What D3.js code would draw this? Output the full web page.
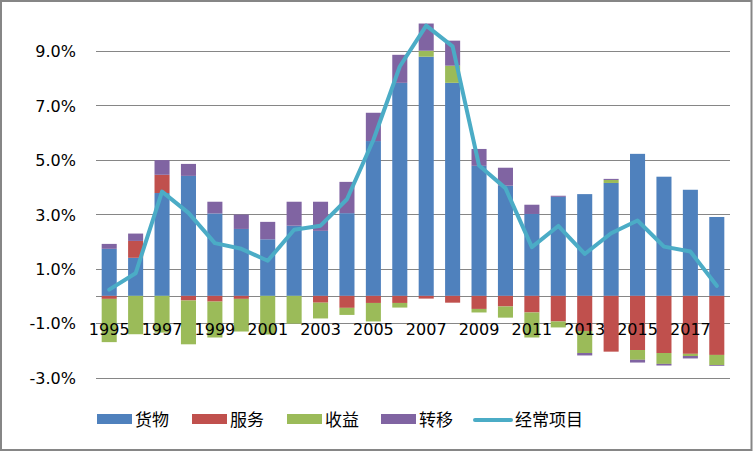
<!DOCTYPE html>
<html>
<head>
<meta charset="utf-8">
<script src="https://cdn.jsdelivr.net/npm/d3@7"></script>
<style>
  html, body { margin: 0; padding: 0; background: #fff; }
  svg { display: block; }
</style>
</head>
<body>
<svg id="chart" width="753" height="451"></svg>
<script>
const years = d3.range(1995, 2019).map(String);
const seriesNames = ["货物", "服务", "收益", "转移"];
const lineName = "经常项目";
const goods =     [1.73,1.40,3.78,4.41,3.03,2.46,2.08,2.58,2.39,3.04,5.69,7.83,8.79,7.83,4.78,4.05,3.01,3.64,3.74,4.15,5.22,4.38,3.90,2.90];
const services =  [-0.11,0.62,0.67,-0.17,-0.21,-0.11,0,0,-0.25,-0.44,-0.26,-0.26,-0.10,-0.25,-0.48,-0.39,-0.61,-0.94,-1.29,-2.05,-1.99,-2.10,-2.13,-2.17];
const income =    [-1.59,-1.41,-1.35,-1.61,-1.32,-1.20,-1.42,-1.02,-0.58,-0.26,-0.68,-0.17,0.22,0.63,-0.13,-0.41,-0.92,-0.22,-0.81,0.11,-0.36,-0.40,-0.08,-0.37];
const transfers = [0.18,0.27,0.54,0.44,0.43,0.53,0.64,0.88,1.07,1.15,1.04,1.03,1.00,0.92,0.62,0.66,0.34,0.04,-0.09,0.04,-0.10,-0.06,-0.09,-0.03];
const currentAccount = [0.23,0.83,3.83,3.05,1.94,1.73,1.29,2.43,2.58,3.55,5.73,8.43,9.93,9.17,4.79,3.96,1.79,2.57,1.54,2.30,2.77,1.81,1.63,0.37];
const yTicks = [-3, -1, 1, 3, 5, 7, 9];
const xTickLabels = years.filter((d, i) => i % 2 === 0);

const colors = ["#4F81BD", "#C0504D", "#9BBB59", "#8064A2"];
const lineColor = "#4BACC6";
const gridColor = "#868686";

const svg = d3.select("#chart");

const x = d3.scaleBand().domain(years).range([96, 730]).paddingInner(0.43).paddingOuter(0.215);
const y = d3.scaleLinear().domain([-3, 9]).range([377.5, 51]);

const table = years.map((yr, i) => ({
  year: yr,
  "货物": goods[i], "服务": services[i], "收益": income[i], "转移": transfers[i]
}));

// outer border
svg.append("rect").attr("x", 1).attr("y", 1).attr("width", 750.5).attr("height", 449)
  .attr("fill", "#fff").attr("stroke", gridColor).attr("stroke-width", 2);

// gridlines
svg.append("g").selectAll("line").data(yTicks.concat([0])).join("line")
  .attr("x1", 96).attr("x2", 730)
  .attr("y1", d => Math.round(y(d)) + 0.5).attr("y2", d => Math.round(y(d)) + 0.5)
  .attr("stroke", gridColor).attr("stroke-width", 1);

// y axis labels
const yAxis = d3.axisLeft(y).tickValues(yTicks).tickSize(0).tickPadding(0)
  .tickFormat(d => d.toFixed(1) + "%");
const gy = svg.append("g").attr("transform", "translate(76,0)").call(yAxis);
gy.select(".domain").remove();
gy.selectAll("text").attr("font-family", "DejaVu Sans").attr("font-size", 16)
  .attr("fill", "#000").attr("dy", "0.36em");

// stacked bars
const stack = d3.stack().keys(seriesNames).offset(d3.stackOffsetDiverging);
const stacked = stack(table);
svg.append("g").selectAll("g").data(stacked).join("g")
  .attr("fill", (d, i) => colors[i])
  .selectAll("rect").data(d => d).join("rect")
  .attr("x", d => x(d.data.year))
  .attr("width", x.bandwidth())
  .attr("y", d => y(Math.max(d[0], d[1])))
  .attr("height", d => Math.abs(y(d[0]) - y(d[1])));

// x axis labels
const xAxis = d3.axisBottom(x).tickValues(xTickLabels).tickSize(0).tickPadding(0);
const gx = svg.append("g").attr("transform", "translate(0,335)").call(xAxis);
gx.select(".domain").remove();
gx.selectAll("text").attr("font-family", "DejaVu Sans").attr("font-size", 16)
  .attr("fill", "#000").attr("dy", 0);

// current account line
const line = d3.line().x((d, i) => x(years[i]) + x.bandwidth() / 2).y(d => y(d));
svg.append("path").datum(currentAccount)
  .attr("d", line).attr("fill", "none").attr("stroke", lineColor)
  .attr("stroke-width", 4).attr("stroke-linejoin", "round").attr("stroke-linecap", "round");

// legend
const legendX = [97, 192, 287, 381];
const lg = svg.append("g");
seriesNames.forEach((name, i) => {
  lg.append("rect").attr("x", legendX[i]).attr("y", 414).attr("width", 35).attr("height", 10).attr("fill", colors[i]);
  lg.append("text").attr("x", legendX[i] + 38).attr("y", 420).attr("dy", "0.35em")
    .attr("font-family", "Noto Sans CJK SC").attr("font-size", 17).attr("fill", "#000").text(name);
});
lg.append("line").attr("x1", 475).attr("x2", 511).attr("y1", 420).attr("y2", 420)
  .attr("stroke", lineColor).attr("stroke-width", 4).attr("stroke-linecap", "round");
lg.append("text").attr("x", 515).attr("y", 420).attr("dy", "0.35em")
  .attr("font-family", "Noto Sans CJK SC").attr("font-size", 17).attr("fill", "#000").text(lineName);
</script>
</body>
</html>
